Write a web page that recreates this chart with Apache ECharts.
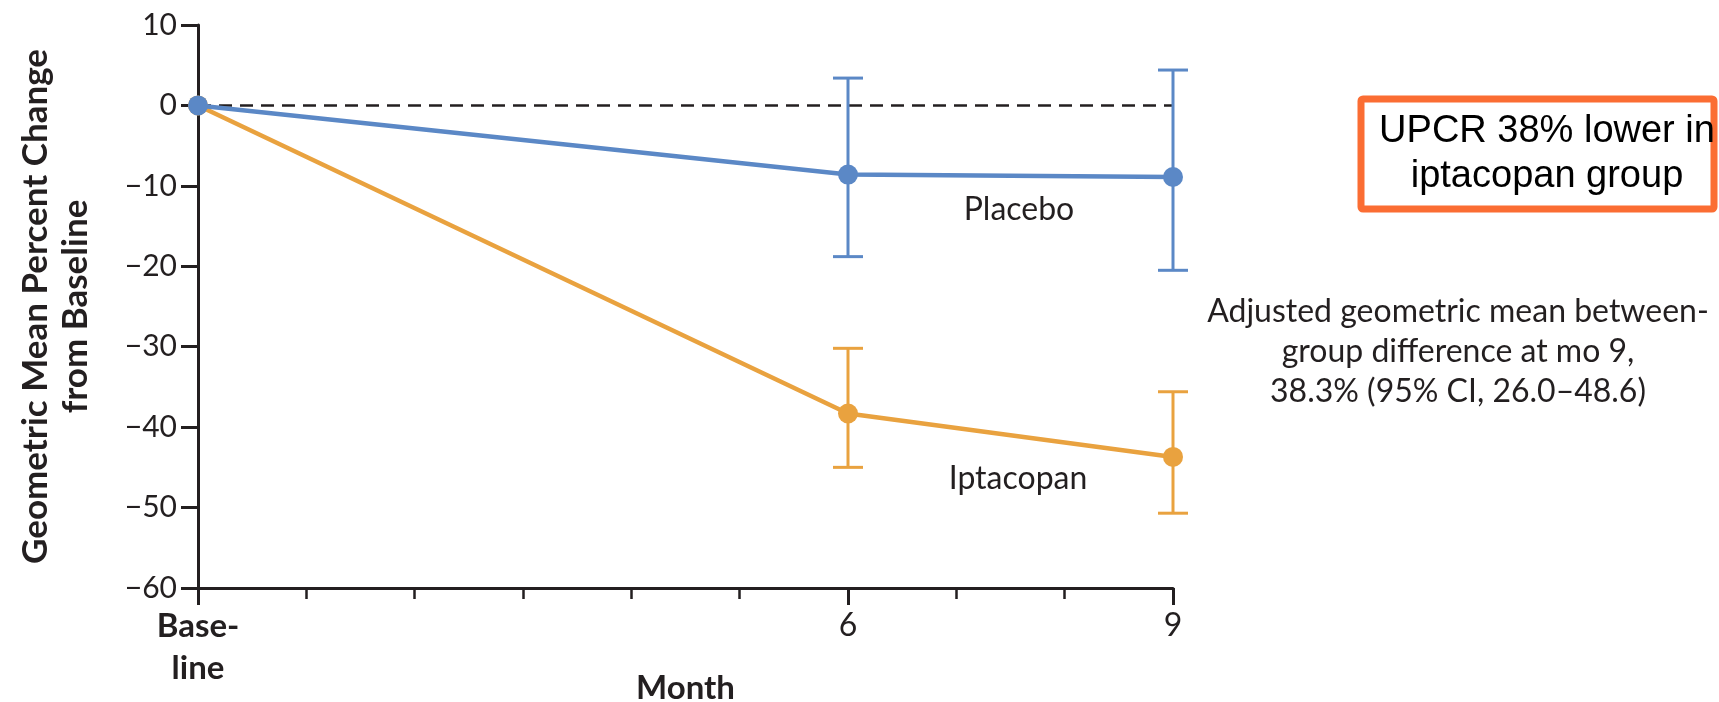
<!DOCTYPE html>
<html>
<head>
<meta charset="utf-8">
<script src="https://cdn.jsdelivr.net/npm/echarts@6/dist/echarts.min.js"></script>
<style>
html,body{margin:0;padding:0;background:#fff;}
#chart{width:1719px;height:702px;}
</style>
</head>
<body>
<div id="chart"></div>
<script>
// ---- data ----
const months = [0, 6, 9];
const placeboMean = [0, -8.6, -8.9];
const placeboLow = [null, -18.8, -20.5];
const placeboHigh = [null, 3.4, 4.4];
const iptacopanMean = [0, -38.3, -43.7];
const iptacopanLow = [null, -45.0, -50.7];
const iptacopanHigh = [null, -30.2, -35.6];
const yMin = -60, yMax = 10, yStep = 10;
const xMin = 0, xMax = 9;
const xLabelMonths = [0, 6, 9];
const xLabelTexts = {0: 'Base-\nline', 6: '6', 9: '9'};

const BLUE = '#5b88c6';
const ORANGE = '#e9a23f';
const INK = '#231f20';
const FONT = 'Lato';

function pairs(xs, ys) { return xs.map((x, i) => [x, ys[i]]); }
function bars(xs, lo, hi) {
  const out = [];
  xs.forEach((x, i) => { if (lo[i] != null) out.push([x, lo[i], hi[i]]); });
  return out;
}
function errRender(color) {
  return function (params, api) {
    const x = api.value(0);
    const pLo = api.coord([x, api.value(1)]);
    const pHi = api.coord([x, api.value(2)]);
    const cap = 15;
    const st = { stroke: color, lineWidth: 3 };
    return {
      type: 'group',
      children: [
        { type: 'line', shape: { x1: pHi[0], y1: pHi[1], x2: pLo[0], y2: pLo[1] }, style: st },
        { type: 'line', shape: { x1: pHi[0] - cap, y1: pHi[1], x2: pHi[0] + cap, y2: pHi[1] }, style: st },
        { type: 'line', shape: { x1: pLo[0] - cap, y1: pLo[1], x2: pLo[0] + cap, y2: pLo[1] }, style: st }
      ]
    };
  };
}

const chart = echarts.init(document.getElementById('chart'), null, { renderer: 'canvas' });
const option = {
  animation: false,
  backgroundColor: '#fff',
  grid: { left: 198, right: 546, top: 25, bottom: 114, containLabel: false, outerBoundsMode: 'none' },
  xAxis: [
    {
      type: 'value', min: xMin, max: xMax, interval: 1,
      name: 'Month', nameLocation: 'middle', nameGap: 100, nameMoveOverlap: false,
      nameTextStyle: { fontFamily: FONT, fontSize: 33, fontWeight: 'bold', color: INK, verticalAlign: 'middle' },
      axisLine: { show: true, onZero: false, lineStyle: { color: INK, width: 3 } },
      axisTick: { show: true, length: 17, lineStyle: { color: INK, width: 3 }, customValues: xLabelMonths },
      axisLabel: {
        show: true, margin: 17, customValues: xLabelMonths,
        fontFamily: FONT, fontSize: 32, color: INK, lineHeight: 42,
        formatter: function (v) {
          if (v === 0) return '{b|Base-}\n{b|line}';
          return xLabelTexts[v] || '';
        },
        rich: { b: { fontFamily: FONT, fontSize: 33, fontWeight: 'bold', color: INK, lineHeight: 42 } }
      },
      splitLine: { show: false }
    },
    {
      type: 'value', min: xMin, max: xMax, interval: 1, position: 'bottom',
      axisLine: { show: false, onZero: false },
      axisTick: { show: true, length: 11, lineStyle: { color: INK, width: 2.5 } },
      axisLabel: { show: false },
      splitLine: { show: false }
    }
  ],
  yAxis: {
    type: 'value', min: yMin, max: yMax, interval: yStep,
    name: 'Geometric Mean Percent Change\nfrom Baseline',
    nameLocation: 'middle', nameGap: 142, nameRotate: 90, nameMoveOverlap: false,
    nameTextStyle: { fontFamily: FONT, fontSize: 35, fontWeight: 'bold', color: INK, lineHeight: 40, verticalAlign: 'middle' },
    axisLine: { show: true, lineStyle: { color: INK, width: 3 } },
    axisTick: { show: true, length: 17, lineStyle: { color: INK, width: 3 } },
    axisLabel: {
      margin: 21, fontFamily: FONT, fontSize: 30, color: INK,
      formatter: function (v) { return String(v).replace('-', '\u2212'); }
    },
    splitLine: { show: false }
  },
  series: [
    {
      type: 'line', data: [[xMin, 0], [xMax, 0]], symbol: 'none', silent: true, z: 1,
      lineStyle: { color: INK, width: 2.5, type: [13, 8] }
    },
    {
      type: 'custom', renderItem: errRender(BLUE), data: bars(months, placeboLow, placeboHigh), z: 2
    },
    {
      type: 'custom', renderItem: errRender(ORANGE), data: bars(months, iptacopanLow, iptacopanHigh), z: 2
    },
    {
      name: 'Iptacopan', type: 'line', data: pairs(months, iptacopanMean), z: 3,
      symbol: 'circle', symbolSize: 20,
      lineStyle: { color: ORANGE, width: 4.5 }, itemStyle: { color: ORANGE }
    },
    {
      name: 'Placebo', type: 'line', data: pairs(months, placeboMean), z: 4,
      symbol: 'circle', symbolSize: 20,
      lineStyle: { color: BLUE, width: 4.5 }, itemStyle: { color: BLUE }
    }
  ],
  graphic: [
    { type: 'text', x: 1019, y: 210, style: { text: 'Placebo', fontFamily: FONT, fontSize: 32, fill: INK, align: 'center', verticalAlign: 'middle' } },
    { type: 'text', x: 1018, y: 479, style: { text: 'Iptacopan', fontFamily: FONT, fontSize: 32, fill: INK, align: 'center', verticalAlign: 'middle' } },
    { type: 'text', x: 1458, y: 352, style: { text: 'Adjusted geometric mean between-\ngroup difference at mo 9,\n38.3% (95% CI, 26.0\u201348.6)', fontFamily: FONT, fontSize: 32, lineHeight: 40, fill: INK, align: 'center', verticalAlign: 'middle' } },
    { type: 'rect', shape: { x: 1361, y: 99, width: 353, height: 110, r: 2 }, style: { fill: '#fff', stroke: '#fb6d33', lineWidth: 7 } },
    { type: 'text', x: 1547, y: 154, style: { text: 'UPCR 38% lower in\niptacopan group', fontFamily: 'Liberation Sans', fontSize: 38, lineHeight: 45, fill: '#000', align: 'center', verticalAlign: 'middle' } }
  ]
};
chart.setOption(option);
</script>
</body>
</html>
